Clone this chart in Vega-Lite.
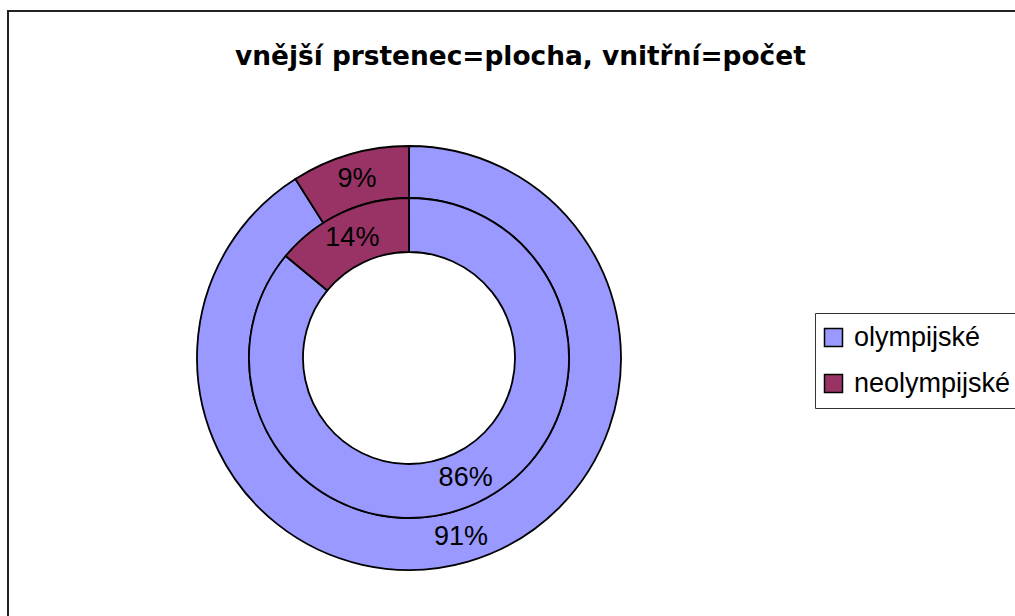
{
  "$schema": "https://vega.github.io/schema/vega-lite/v6.json",
  "autosize": {"type": "none"},
  "padding": {"left": 8, "top": 11, "right": 0, "bottom": 0},
  "width": 1100,
  "height": 700,
  "background": "white",
  "view": {"stroke": "#222222", "strokeWidth": 2},
  "title": {
    "text": "vnější prstenec=plocha, vnitřní=počet",
    "font": "DejaVu Sans",
    "fontSize": 26.4,
    "fontWeight": "bold",
    "color": "black",
    "anchor": "start",
    "frame": "group",
    "baseline": "alphabetic",
    "offset": 0,
    "dx": 227,
    "dy": 80
  },
  "data": {
    "values": [
      {"ring": "vnější", "kategorie": "olympijské", "podil": 91, "poradi": 1, "popis": "91%"},
      {"ring": "vnější", "kategorie": "neolympijské", "podil": 9, "poradi": 2, "popis": "9%"},
      {"ring": "vnitřní", "kategorie": "olympijské", "podil": 86, "poradi": 1, "popis": "86%"},
      {"ring": "vnitřní", "kategorie": "neolympijské", "podil": 14, "poradi": 2, "popis": "14%"}
    ]
  },
  "encoding": {
    "x": {"value": 401},
    "y": {"value": 347},
    "theta": {"field": "podil", "type": "quantitative", "stack": true},
    "order": {"field": "poradi", "type": "quantitative"},
    "color": {
      "field": "kategorie",
      "type": "nominal",
      "scale": {"domain": ["olympijské", "neolympijské"], "range": ["#9999FF", "#993366"]},
      "legend": {
        "title": null,
        "orient": "none",
        "legendX": 807,
        "legendY": 302,
        "strokeColor": "#333333",
        "padding": 11,
        "symbolType": "square",
        "symbolSize": 324,
        "symbolOffset": -6,
        "symbolStrokeColor": "black",
        "symbolStrokeWidth": 1.5,
        "symbolOpacity": 1,
        "labelFont": "Liberation Sans",
        "labelFontSize": 27,
        "labelColor": "black",
        "labelOffset": 7,
        "rowPadding": 18
      }
    }
  },
  "layer": [
    {
      "transform": [{"filter": "datum.ring === 'vnější'"}],
      "mark": {"type": "arc", "outerRadius": 212, "innerRadius": 160, "stroke": "black", "strokeWidth": 1.8},
      "encoding": {}
    },
    {
      "transform": [{"filter": "datum.ring === 'vnitřní'"}],
      "mark": {"type": "arc", "outerRadius": 160, "innerRadius": 106, "stroke": "black", "strokeWidth": 1.8},
      "encoding": {}
    },
    {
      "transform": [{"filter": "datum.ring === 'vnější'"}],
      "mark": {"type": "text", "radius": 186, "font": "Liberation Sans", "fontSize": 27, "color": "black", "baseline": "middle", "align": "center"},
      "encoding": {"text": {"field": "popis"}, "color": {"value": "black"}}
    },
    {
      "transform": [{"filter": "datum.ring === 'vnitřní'"}],
      "mark": {"type": "text", "radius": 133, "font": "Liberation Sans", "fontSize": 27, "color": "black", "baseline": "middle", "align": "center"},
      "encoding": {"text": {"field": "popis"}, "color": {"value": "black"}}
    }
  ]
}
